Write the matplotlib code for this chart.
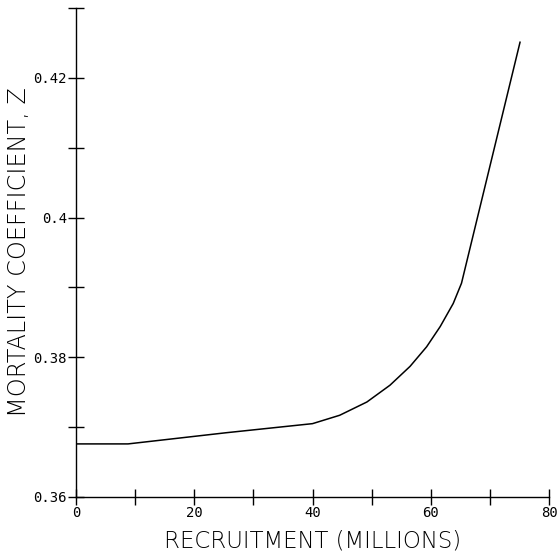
import numpy as np
import matplotlib
matplotlib.use("Agg")
import matplotlib.pyplot as plt
from matplotlib.ticker import MultipleLocator

# recruitment (millions) vs total mortality coefficient Z
recruitment = [0, 8.8, 25.4, 40.0, 44.6, 49.2, 53.1, 56.5, 59.3, 61.6, 63.8, 65.2, 75.1]
mortality_z = [0.3676, 0.3676, 0.3692, 0.3705, 0.3717, 0.3736, 0.3760,
               0.3787, 0.3815, 0.3844, 0.3877, 0.3906, 0.4251]

x_ticks = [0, 20, 40, 60, 80]
y_ticks = [0.36, 0.38, 0.40, 0.42]
y_tick_labels = ["0.36", "0.38", "0.4", "0.42"]

fig = plt.figure(figsize=(5.57, 5.54), dpi=100)
ax = fig.add_axes([76/557, 1-497/554, (549-76)/557, (497-8)/554])

ax.plot(recruitment, mortality_z, color="black", lw=1.1)

ax.set_xlim(0, 80)
ax.set_ylim(0.36, 0.43)
ax.spines["top"].set_visible(False)
ax.spines["right"].set_visible(False)
for s in ("left", "bottom"):
    ax.spines[s].set_linewidth(1.0)

ax.set_xticks(x_ticks)
ax.set_xticklabels([str(t) for t in x_ticks])
ax.xaxis.set_minor_locator(MultipleLocator(10))
ax.set_yticks(y_ticks + [0.43])
ax.set_yticklabels(y_tick_labels + [""])
ax.yaxis.set_minor_locator(MultipleLocator(0.01))

ax.tick_params(which="both", direction="inout", length=11, width=1.0, color="black")
ax.tick_params(axis="x", pad=1)
ax.tick_params(axis="y", pad=1)
for lab in ax.get_xticklabels() + ax.get_yticklabels():
    lab.set_family("DejaVu Sans Mono")
    lab.set_fontsize(10)

ax.set_xlabel("RECRUITMENT (MILLIONS)", fontsize=16.5, fontweight="light", labelpad=7)
ax.set_ylabel("MORTALITY COEFFICIENT, Z", fontsize=17.3, fontweight="light")
ax.yaxis.set_label_coords(-0.12, 0.5)
ax.yaxis.label.set_va("center")

fig.savefig("out.png", dpi=100)
